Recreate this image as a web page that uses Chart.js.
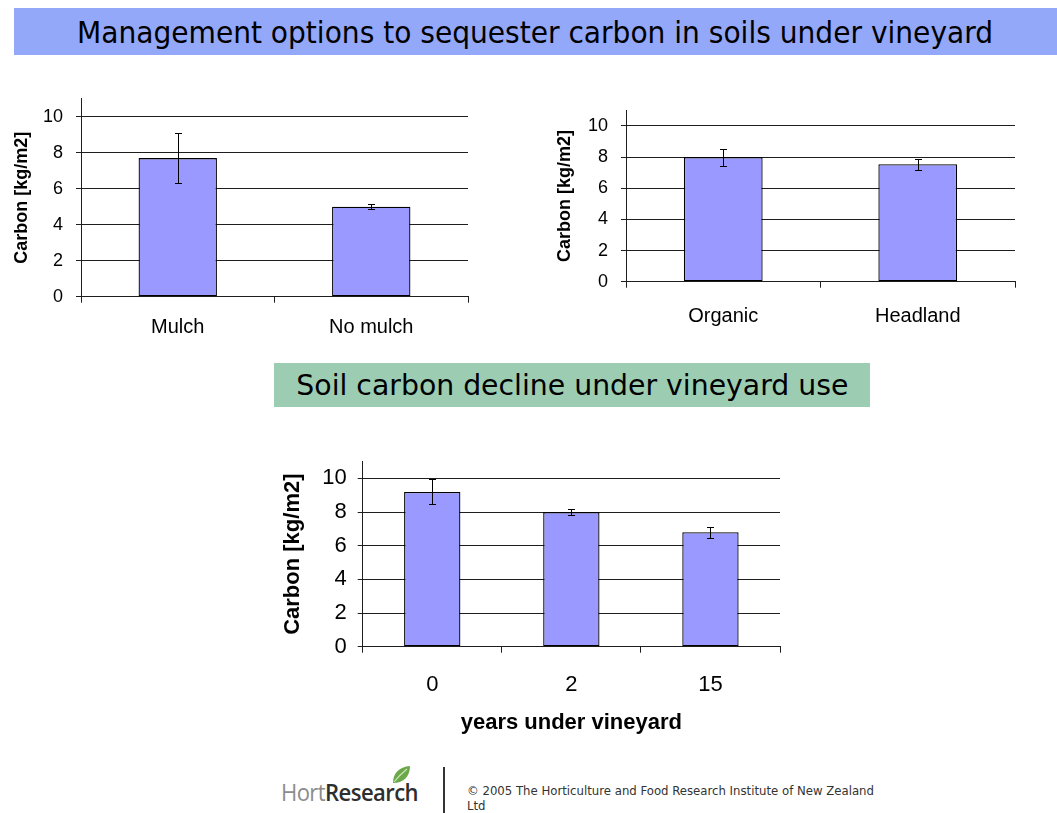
<!DOCTYPE html>
<html>
<head>
<meta charset="utf-8">
<script src="https://cdn.jsdelivr.net/npm/chart.js@4"></script>
<style>
  html, body { margin: 0; padding: 0; background: #fff; }
  #page { position: relative; width: 1057px; height: 813px; overflow: hidden; }
  .banner { position: absolute; display: flex; align-items: center; justify-content: center; overflow: hidden; }
  .banner span { display: inline-block; white-space: nowrap; font-family: 'DejaVu Sans Condensed', 'DejaVu Sans', sans-serif; color: #000; transform-origin: center center; }
  #banner-top { left: 14px; top: 8px; width: 1043px; height: 47px; background: #94a8fa; }
  #banner-top span { font-size: 31px; }
  #banner-mid { left: 274px; top: 363px; width: 596px; height: 44px; background: #9ccdb3; }
  #banner-mid span { font-size: 29px; }
  canvas { position: absolute; }
  #logo { position: absolute; left: 281px; top: 776px; font-family: 'Open Sans', sans-serif; font-size: 23px; letter-spacing: -0.6px; white-space: nowrap; transform-origin: left center; }
  #logo .hort { color: #8c8c8c; }
  #logo .research { color: #2e2e2e; font-weight: 600; }
  #leaf { position: absolute; left: 390px; top: 764px; }
  #divider { position: absolute; left: 443px; top: 767px; width: 2px; height: 46px; background: #333; }
  #copyright { position: absolute; left: 467px; top: 783px; font-family: 'DejaVu Sans Condensed', 'DejaVu Sans', sans-serif; font-size: 12.5px; line-height: 15px; color: #333; white-space: nowrap; }
</style>
</head>
<body>
<div id="page">
  <div class="banner" id="banner-top"><span>Management options to sequester carbon in soils under vineyard</span></div>
  <div class="banner" id="banner-mid"><span>Soil carbon decline under vineyard use</span></div>

  <canvas id="chart-mulch" width="480" height="260" style="left:0px; top:90px;"></canvas>
  <canvas id="chart-system" width="500" height="240" style="left:540px; top:100px;"></canvas>
  <canvas id="chart-years" width="520" height="300" style="left:270px; top:450px;"></canvas>

  <div id="logo"><span class="hort">Hort</span><span class="research">Research</span></div>
  <svg id="leaf" width="22" height="22" viewBox="0 0 22 22">
    <path d="M3 19 C3 9 9 3 20 2 C20 13 13 19 3 19 Z" fill="#6aa84a"/>
    <path d="M4 18 C8 13 12 9 17 5" stroke="#cfe8b8" stroke-width="1.2" fill="none"/>
  </svg>
  <div id="divider"></div>
  <div id="copyright">© 2005 The Horticulture and Food Research Institute of New Zealand<br>Ltd</div>
</div>

<script>
// mulch vs no mulch
const mulchLabels = ['Mulch', 'No mulch'];
const mulchCarbon = [7.7, 5.0];
const mulchErr = [1.4, 0.13];

// organic vs headland
const systemLabels = ['Organic', 'Headland'];
const systemCarbon = [8.0, 7.55];
const systemErr = [0.55, 0.35];

// years under vineyard
const yearLabels = ['0', '2', '15'];
const yearCarbon = [9.2, 8.0, 6.8];
const yearErr = [0.74, 0.16, 0.32];

const carbonTicks = [0, 2, 4, 6, 8, 10];
const CARBON_MAX = 11;

const BAR_FILL = '#9999ff';
const BAR_EDGE = '#000';
const LINE = '#1e1e1e';
const FONT = "'Liberation Sans', Arial, sans-serif";

// stretch/squeeze a text element horizontally to a given width
function fitWidth(el, width) {
  const w = el.getBoundingClientRect().width;
  el.style.transform = 'scaleX(' + (width / w) + ')';
}
fitWidth(document.querySelector('#banner-top span'), 916);
fitWidth(document.querySelector('#banner-mid span'), 552);
fitWidth(document.getElementById('logo'), 137);
document.getElementById('copyright').style.transformOrigin = 'left top';
fitWidth(document.getElementById('copyright'), 407);

// draws +/- error whiskers over each bar
const errorBarPlugin = {
  id: 'errorBars',
  afterDatasetsDraw(chart, args, opts) {
    const ctx = chart.ctx;
    const y = chart.scales.y;
    const values = chart.data.datasets[0].data;
    const meta = chart.getDatasetMeta(0);
    ctx.save();
    ctx.strokeStyle = '#000';
    ctx.lineWidth = 1;
    meta.data.forEach((bar, i) => {
      const x = Math.round(bar.x) + 0.5;
      const top = Math.round(y.getPixelForValue(values[i] + opts.errors[i])) + 0.5;
      const bottom = Math.round(y.getPixelForValue(values[i] - opts.errors[i])) + 0.5;
      ctx.beginPath();
      ctx.moveTo(x, top);
      ctx.lineTo(x, bottom);
      ctx.moveTo(x - opts.cap, top);
      ctx.lineTo(x + opts.cap, top);
      ctx.moveTo(x - opts.cap, bottom);
      ctx.lineTo(x + opts.cap, bottom);
      ctx.stroke();
    });
    ctx.restore();
  }
};

function noLabelPadding(s) {
  s.paddingTop = 0;
  s.paddingBottom = 0;
  s.paddingLeft = 0;
  s.paddingRight = 0;
}

function barChart(id, labels, values, errors, g) {
  return new Chart(document.getElementById(id), {
    type: 'bar',
    data: {
      labels: labels,
      datasets: [{
        data: values,
        backgroundColor: BAR_FILL,
        borderColor: BAR_EDGE,
        borderWidth: 1.3,
        borderSkipped: false,
        barPercentage: 0.405,
        categoryPercentage: 1
      }]
    },
    options: {
      responsive: false,
      animation: false,
      devicePixelRatio: 1,
      layout: { padding: { left: 0, top: g.padTop, right: g.padRight, bottom: 0 } },
      plugins: {
        legend: { display: false },
        tooltip: { enabled: false },
        errorBars: { errors: errors, cap: g.cap }
      },
      scales: {
        x: {
          offset: true,
          grid: { offset: true, drawOnChartArea: false, drawTicks: true, tickLength: 6, color: LINE },
          border: { color: LINE, width: 1 },
          ticks: { color: '#000', font: { family: FONT, size: g.catSize }, padding: g.catPad, maxRotation: 0 },
          title: {
            display: !!g.xTitle,
            text: g.xTitle || '',
            color: '#000',
            font: { family: FONT, size: g.titleSize, weight: 'bold' },
            padding: { top: 0, bottom: g.xTitlePad || 0 }
          },
          afterFit(s) { s.height = g.xHeight; noLabelPadding(s); }
        },
        y: {
          min: 0,
          max: CARBON_MAX,
          afterBuildTicks(s) { s.ticks = carbonTicks.map(v => ({ value: v })); },
          grid: { color: LINE, drawTicks: true, tickLength: 5 },
          border: { color: LINE, width: 1 },
          ticks: { color: '#000', font: { family: FONT, size: g.tickSize }, padding: g.tickPad },
          title: {
            display: true,
            text: 'Carbon [kg/m2]',
            color: '#000',
            font: { family: FONT, size: g.titleSize, weight: 'bold' },
            padding: { top: g.yTitlePad, bottom: 0 }
          },
          afterFit(s) { s.width = g.yWidth; noLabelPadding(s); }
        }
      }
    },
    plugins: [errorBarPlugin]
  });
}

barChart('chart-mulch', mulchLabels, mulchCarbon, mulchErr, {
  padTop: 8.7, padRight: 12, yWidth: 81, xHeight: 53.3,
  tickSize: 18, tickPad: 13, catSize: 20, catPad: 12.8,
  titleSize: 18, yTitlePad: 11.2, cap: 3.5
});

barChart('chart-system', systemLabels, systemCarbon, systemErr, {
  padTop: 10.4, padRight: 25, yWidth: 86, xHeight: 58.3,
  tickSize: 18, tickPad: 13, catSize: 20, catPad: 16.6,
  titleSize: 18, yTitlePad: 14.2, cap: 3.5
});

barChart('chart-years', yearLabels, yearCarbon, yearErr, {
  padTop: 11.6, padRight: 10, yWidth: 92.7, xHeight: 103.3,
  tickSize: 22, tickPad: 11, catSize: 22, catPad: 18.8,
  titleSize: 22, yTitlePad: 9.8, cap: 3.5,
  xTitle: 'years under vineyard', xTitlePad: 13.8
});
</script>
</body>
</html>
